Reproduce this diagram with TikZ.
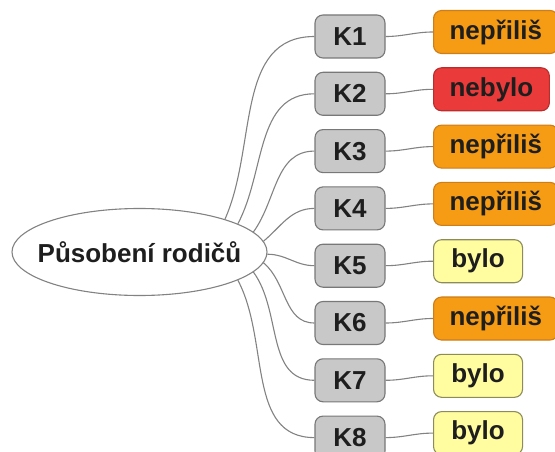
\documentclass[tikz,border=0pt]{standalone}
\usepackage{fontspec}
\setmainfont{Liberation Sans}
\usetikzlibrary{shapes.geometric}
\definecolor{linegray}{RGB}{130,130,130}
\definecolor{kfill}{RGB}{200,200,200}
\definecolor{kdraw}{RGB}{120,120,120}
\definecolor{orfill}{RGB}{245,155,20}
\definecolor{ordraw}{RGB}{205,125,25}
\definecolor{redfill}{RGB}{235,58,58}
\definecolor{reddraw}{RGB}{185,45,45}
\definecolor{yelfill}{RGB}{255,253,160}
\definecolor{yeldraw}{RGB}{140,140,90}
\definecolor{txt}{RGB}{30,30,30}
\tikzset{
  every node/.style={font=\fontsize{26}{30}\selectfont\bfseries, text=txt},
  root/.style={ellipse, draw=linegray, line width=1.1pt, fill=white,
    minimum width=255pt, minimum height=87pt, inner sep=0pt},
  kbox/.style={rectangle, rounded corners=8pt, draw=kdraw, fill=kfill,
    line width=1.1pt, minimum width=70pt, minimum height=43pt, inner sep=0pt},
  tag/.style={rectangle, rounded corners=8pt, line width=1.1pt, anchor=west,
    minimum width=89pt, minimum height=43pt, inner xsep=16pt, inner ysep=0pt},
  much/.style={tag, fill=orfill, draw=ordraw},
  none/.style={tag, fill=redfill, draw=reddraw},
  yes/.style={tag, fill=yelfill, draw=yeldraw},
  link/.style={draw=linegray, line width=1.1pt},
}
\begin{document}
\begin{tikzpicture}[x=1pt,y=1pt]
\useasboundingbox (0,0) rectangle (555,-452);

% central ellipse
\node[root] (E) at (139.5,-252) {};
\node (Et) at (139.5,-252) {Působení rodičů};

% category boxes
\foreach \i/\y in {1/36.5,2/93.8,3/151.1,4/208.4,5/265.7,6/323,7/380.3,8/437.6}
  \node[kbox] (K\i) at (350,-\y) {K\i};

% answer tags
\node[much] (R1) at (433,-32)    {nepřiliš};
\node[none] (R2) at (433,-89.3)  {nebylo};
\node[much] (R3) at (433,-146.6) {nepřiliš};
\node[much] (R4) at (433,-203.9) {nepřiliš};
\node[yes]  (R5) at (433,-261.2) {bylo};
\node[much] (R6) at (433,-318.5) {nepřiliš};
\node[yes]  (R7) at (433,-375.8) {bylo};
\node[yes]  (R8) at (433,-433.1) {bylo};

% branches from the ellipse
\draw[link] (E.21.6)  to[out=66,in=180]  (K1.west);
\draw[link] (E.16)    to[out=62,in=180]  (K2.west);
\draw[link] (E.10.7)  to[out=54,in=180]  (K3.west);
\draw[link] (E.5)     to[out=40,in=180]  (K4.west);
\draw[link] (E.-1.5)  to[out=0,in=180]   (K5.west);
\draw[link] (E.-5)    to[out=-40,in=180] (K6.west);
\draw[link] (E.-10.7) to[out=-54,in=180] (K7.west);
\draw[link] (E.-16)   to[out=-62,in=180] (K8.west);

% links to the tags
\foreach \i in {1,...,8}
  \draw[link] (K\i.east) to[out=0,in=180] (R\i.west);
\end{tikzpicture}
\end{document}
